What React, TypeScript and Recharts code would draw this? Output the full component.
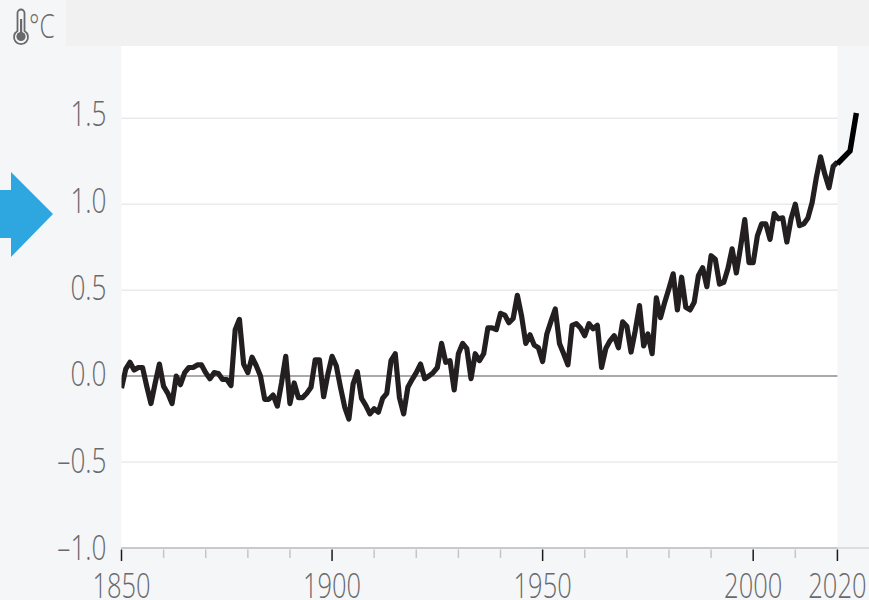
import React from "react";
import { LineChart, Line, XAxis, YAxis, ReferenceArea, ReferenceLine } from "recharts";

const FIRST_YEAR = 1850;
const anomalies = [
  -0.07, 0.04, 0.08, 0.035, 0.05, 0.05, -0.06, -0.16, -0.04, 0.07,
  -0.06, -0.1, -0.16, 0, -0.05, 0.02, 0.05, 0.05, 0.065, 0.065,
  0.02, -0.015, 0.02, 0.015, -0.02, -0.02, -0.055, 0.27, 0.33, 0.07,
  0.02, 0.11, 0.06, 0, -0.135, -0.135, -0.11, -0.175, -0.04, 0.115,
  -0.16, -0.04, -0.125, -0.125, -0.1, -0.065, 0.095, 0.095, -0.12, 0.01,
  0.115, 0.06, -0.065, -0.18, -0.25, -0.045, 0.025, -0.13, -0.17, -0.22,
  -0.19, -0.21, -0.13, -0.1, 0.09, 0.13, -0.125, -0.22, -0.065, -0.02,
  0.02, 0.07, -0.015, 0, 0.02, 0.05, 0.19, 0.08, 0.09, -0.08,
  0.13, 0.19, 0.16, -0.015, 0.13, 0.09, 0.13, 0.28, 0.28, 0.27,
  0.365, 0.355, 0.31, 0.335, 0.47, 0.35, 0.19, 0.24, 0.18, 0.165,
  0.085, 0.245, 0.32, 0.39, 0.19, 0.13, 0.065, 0.295, 0.305, 0.28,
  0.235, 0.305, 0.275, 0.295, 0.05, 0.16, 0.205, 0.235, 0.165, 0.315,
  0.29, 0.14, 0.265, 0.41, 0.175, 0.245, 0.13, 0.455, 0.34, 0.43,
  0.51, 0.595, 0.385, 0.575, 0.4, 0.385, 0.43, 0.585, 0.63, 0.52,
  0.7, 0.68, 0.535, 0.545, 0.625, 0.74, 0.6, 0.75, 0.91, 0.66,
  0.66, 0.815, 0.885, 0.885, 0.795, 0.945, 0.915, 0.92, 0.78, 0.915,
  1.0, 0.875, 0.885, 0.92, 1.01, 1.155, 1.275, 1.175, 1.095, 1.22,
  1.245,
];
const recentYears = [2020, 2023, 2024.5];
const recentValues = [1.235, 1.31, 1.53];

const xTicks = [1850, 1860, 1870, 1880, 1890, 1900, 1910, 1920, 1930, 1940, 1950, 1960, 1970, 1980, 1990, 2000, 2010, 2020];
const xLabelled = [1850, 1900, 1950, 2000, 2020];
const yTicks = [-1, -0.5, 0, 0.5, 1, 1.5];
const gridValues = [-0.5, 0.5, 1, 1.5];

const chartData = [
  ...anomalies.slice(0, 170).map((v, i) => ({ year: FIRST_YEAR + i, anomaly: v })),
  ...recentYears.map((y, i) => ({ year: y, recent: recentValues[i], anomaly: y === 2020 ? anomalies[170] : undefined })),
];

const LABEL = "#68696c";
const FONT = '"Open Sans", sans-serif';

function XTick(props: any) {
  const { x, payload } = props;
  const major = xLabelled.includes(payload.value);
  const axisY = 548;
  return (
    <g>
      <line x1={x} x2={x} y1={axisY + 1.5} y2={axisY + (major ? 13 : 10)} stroke={major ? "#1a1a1a" : "#c4c5c8"} strokeWidth={1.5} />
      {major ? (
        <text transform={`translate(${x},598) scale(0.75,1)`} textAnchor="middle" fontFamily={FONT} fontWeight={300} fontSize={34} fill={LABEL}>
          {payload.value}
        </text>
      ) : null}
    </g>
  );
}

function YTick(props: any) {
  const { y, payload } = props;
  const v: number = payload.value;
  const label = (v < 0 ? "\u2013" : "") + Math.abs(v).toFixed(1);
  return (
    <text transform={`translate(106.5,${y + 8 + (y - 118) * 0.009}) scale(0.77,1)`} textAnchor="end" fontFamily={FONT} fontWeight={300} fontSize={34} fill={LABEL}>
      {label}
    </text>
  );
}

export default function App() {
  return (
    <div style={{ position: "absolute", left: 0, top: 0, width: 869, height: 600, overflow: "hidden", background: "#f5f6f8" }}>
      <div style={{ position: "absolute", left: 66, top: 0, width: 803, height: 46, background: "#f1f1f2" }} />
      <svg width={869} height={600} style={{ position: "absolute", left: 0, top: 0 }}>
        <polygon points="0,190 11,190 11,172 53,214 11,257 11,238 0,238" fill="#2ea7e0" />
        <path d="M17.5 13 a3.5 3.5 0 0 1 7 0 V31 a7 7 0 1 1 -7 0 Z" fill="none" stroke={LABEL} strokeWidth={1.8} />
        <rect x={20} y={19} width={2.2} height={14} fill={LABEL} />
        <circle cx={21} cy={36.5} r={4.6} fill={LABEL} />
        <text transform="translate(29,38) scale(0.74,1)" fontFamily={FONT} fontWeight={300} fontSize={33} fill={LABEL}>°C</text>
      </svg>
      <div style={{ position: "absolute", left: 0, top: 0 }}>
        <LineChart width={869} height={600} data={chartData} margin={{ top: 46, right: 0, bottom: 0, left: 0 }}>
          <XAxis
            dataKey="year"
            type="number"
            domain={[1850, 2027.5]}
            allowDataOverflow
            ticks={xTicks}
            height={52}
            interval={0}
            tickLine={false}
            tickSize={0}
            axisLine={{ stroke: "#d4d5d7", strokeWidth: 1.5 }}
            tick={<XTick />}
          />
          <YAxis
            type="number"
            domain={[-1, 1.92]}
            ticks={yTicks}
            width={121.5}
            interval={0}
            allowDataOverflow
            tickLine={false}
            axisLine={false}
            tick={<YTick />}
          />
          <ReferenceArea x1={1850} x2={2020} y1={-1} y2={1.92} fill="#ffffff" fillOpacity={1} stroke="none" />
          {gridValues.map((v) => (
            <ReferenceLine key={v} segment={[{ x: 1850, y: v }, { x: 2020, y: v }]} stroke="#dfdfe1" strokeWidth={1} />
          ))}
          <ReferenceLine segment={[{ x: 1850, y: 0 }, { x: 2020, y: 0 }]} stroke="#a9a9ab" strokeWidth={2} />
          <ReferenceLine segment={[{ x: 1850, y: -1 }, { x: 2020, y: -1 }]} stroke="#a9a9ab" strokeWidth={2} />
          <Line dataKey="anomaly" type="linear" stroke="#231f20" strokeWidth={5.2} dot={false} isAnimationActive={false} connectNulls={false} strokeLinejoin="round" />
          <Line dataKey="recent" type="linear" stroke="#000000" strokeWidth={5.4} dot={false} isAnimationActive={false} connectNulls={false} strokeLinejoin="miter" />
        </LineChart>
      </div>
    </div>
  );
}
